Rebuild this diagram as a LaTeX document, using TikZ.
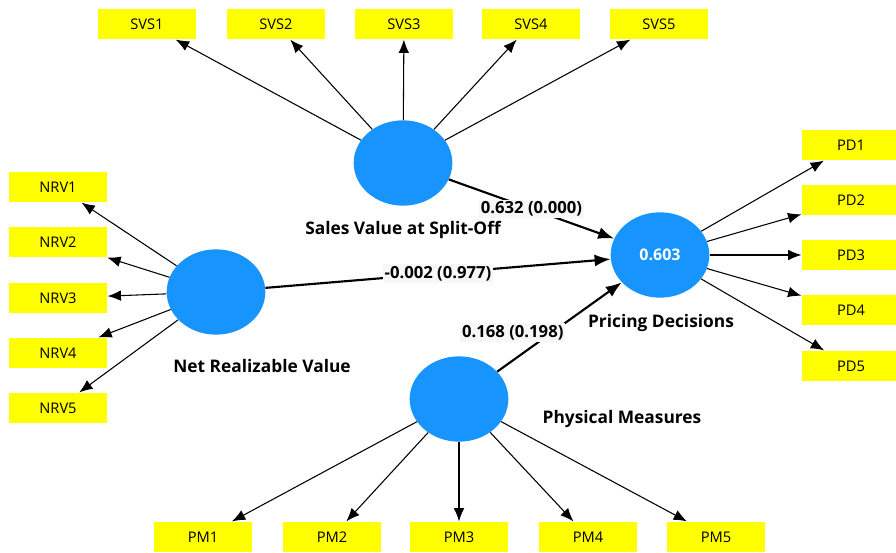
\documentclass[tikz,border=0pt]{standalone}
\usepackage{fontspec}
\setmainfont{Open Sans}
\usepackage{xcolor}
\usepackage{tikz}
\usetikzlibrary{shapes.geometric,arrows.meta}
\definecolor{lvblue}{RGB}{24,148,255}
\definecolor{mvyellow}{RGB}{255,255,0}

\begin{document}
\begin{tikzpicture}[x=0.75pt,y=-0.75pt,
    item/.style={fill=mvyellow,minimum width=74pt,minimum height=23pt,inner sep=0pt,font=\fontsize{11}{13}\selectfont},
    latent/.style={ellipse,fill=lvblue,minimum width=74pt,minimum height=64pt,inner sep=0pt},
    lvname/.style={font=\bfseries\fontsize{13}{15}\selectfont},
    load/.style={line width=0.8pt,-{Latex[length=10pt,width=8pt]}},
    coef/.style={line width=1.6pt,-{Latex[length=12pt,width=9pt]}},
    est/.style={fill=gray!6,inner sep=1.5pt,font=\bfseries\fontsize{12.5}{15}\selectfont}]
    \useasboundingbox (0,0) rectangle (896,553);
    % latent variables
        \node[latent] (svs) at (403,163){};
        \node[latent] (nrv) at (216,292){};
        \node[latent,text=white,font=\bfseries\fontsize{12}{14}\selectfont] (pd) at (660,255){0.603};
        \node[latent] (pm) at (459,399){};

        \node[lvname] (svsname) at (403,230){Sales Value at Split-Off};
        \node[lvname] (nrvname) at (262,366){Net Realizable Value};
        \node[lvname] (pdname) at (661,323){Pricing Decisions};
        \node[lvname] (pmname) at (622,419){Physical Measures};
    % sales value indicators
        \node[item] (svs1) at (147,24){SVS1};
        \node[item] (svs2) at (276,24){SVS2};
        \node[item] (svs3) at (404,24){SVS3};
        \node[item] (svs4) at (531,24){SVS4};
        \node[item] (svs5) at (659,24){SVS5};
        \draw[load](svs)--(svs1);
        \draw[load](svs)--(svs2);
        \draw[load](svs)--(svs3);
        \draw[load](svs)--(svs4);
        \draw[load](svs)--(svs5);
    % net realizable value indicators
        \node[item] (nrv1) at (58,187){NRV1};
        \node[item] (nrv2) at (58,242){NRV2};
        \node[item] (nrv3) at (58,298){NRV3};
        \node[item] (nrv4) at (58,353){NRV4};
        \node[item] (nrv5) at (58,408){NRV5};
        \draw[load](nrv)--(nrv1);
        \draw[load](nrv)--(nrv2);
        \draw[load](nrv)--(nrv3);
        \draw[load](nrv)--(nrv4);
        \draw[load](nrv)--(nrv5);
    % pricing decisions indicators
        \node[item] (pd1) at (851,145){PD1};
        \node[item] (pd2) at (851,200){PD2};
        \node[item] (pd3) at (851,255){PD3};
        \node[item] (pd4) at (851,310){PD4};
        \node[item] (pd5) at (851,366){PD5};
        \draw[load](pd)--(pd1);
        \draw[load](pd)--(pd2);
        \draw[load](pd)--(pd3);
        \draw[load](pd)--(pd4);
        \draw[load](pd)--(pd5);
    % physical measures indicators
        \node[item] (pm1) at (203,537){PM1};
        \node[item] (pm2) at (332,537){PM2};
        \node[item] (pm3) at (459,537){PM3};
        \node[item] (pm4) at (588,537){PM4};
        \node[item] (pm5) at (716,537){PM5};
        \draw[load](pm)--(pm1);
        \draw[load](pm)--(pm2);
        \draw[load](pm)--(pm3);
        \draw[load](pm)--(pm4);
        \draw[load](pm)--(pm5);
    % structural paths
        \draw[coef](svs)--node[est,pos=0.5]{0.632 (0.000)}(pd);
        \draw[coef](nrv)--node[est,pos=0.5]{-0.002 (0.977)}(pd);
        \draw[coef](pm)--node[est,pos=0.2,xshift=-7pt,yshift=16pt]{0.168 (0.198)}(pd);
\end{tikzpicture}
\end{document}
